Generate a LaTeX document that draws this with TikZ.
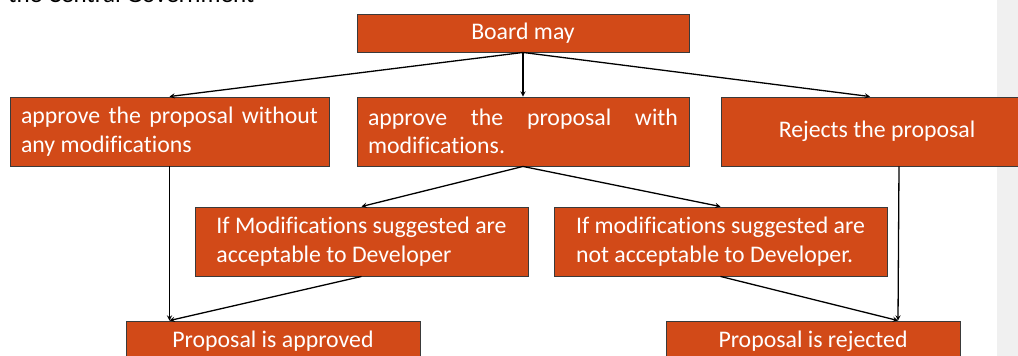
\documentclass[tikz,border=0pt]{standalone}
\usepackage{fontspec}
\setmainfont{Carlito}[Ligatures=CommonOff]
\usepackage{xcolor}
\usepackage{tikz}
\usetikzlibrary{positioning}
\definecolor{BDOrange}{HTML}{D24A18}
\definecolor{BDLine}{HTML}{3A3A3A}
\definecolor{BDPanel}{HTML}{F0F0F0}

\begin{document}
\begin{tikzpicture}[x=1pt,y=-1pt,
  box/.style={fill=BDOrange,draw=BDLine,line width=0.9pt,text=white,inner sep=0pt,
    font=\fontsize{23.8}{28.5}\selectfont},
  flow/.style={-stealth,line width=1.3pt,black}]
\useasboundingbox (0,0) rectangle (1018,356);
\clip (0,0) rectangle (1018,356);
\fill[BDPanel] (997,0) rectangle (1018,356);
\node[anchor=base west,inner sep=0pt,font=\fontsize{25}{30}\selectfont] (gov) at (8,2.5) {the Central Government};

\node[box,minimum width=332pt,minimum height=38pt] (board) at (523,33) {Board may};
\node[box,minimum width=319pt,minimum height=69pt,text width=297pt,align=justify] (plain) at (169.5,131.5) {approve the proposal without\linebreak any modifications};
\node[box,minimum width=332pt,minimum height=69pt,text width=310pt,align=justify] (mods) at (523,131.5) {approve the proposal with\linebreak modifications.};
\node[box,minimum width=312pt,minimum height=69pt] (reject) at (877,131.5) {Rejects the proposal};
\node[box,minimum width=333pt,minimum height=69pt,align=left] (agree) at (361.5,241.5) {If Modifications suggested are\\acceptable to Developer};
\node[box,minimum width=333pt,minimum height=69pt,align=left] (refuse) at (720.5,241.5) {If modifications suggested are\\not acceptable to Developer.};
\node[box,minimum width=294pt,minimum height=40pt] (yes) at (273,341) {Proposal is approved};
\node[box,minimum width=294pt,minimum height=40pt] (no) at (813,341) {Proposal is rejected};

\draw[flow] (board.south) -- (plain.north);
\draw[flow] (board.south) -- (mods.north);
\draw[flow] (board.south) -- ([xshift=-7pt]reject.north);
\draw[flow] (mods.south) -- (agree.north);
\draw[flow] (mods.south) -- (refuse.north);
\draw[flow] (plain.south) -- (plain.south |- yes.north);
\draw[flow] (agree.south) -- (plain.south |- yes.north);
\draw[flow] ([xshift=22pt]reject.south) -- ([xshift=85pt]no.north);
\draw[flow] (refuse.south) -- ([xshift=85pt]no.north);
\end{tikzpicture}
\end{document}
